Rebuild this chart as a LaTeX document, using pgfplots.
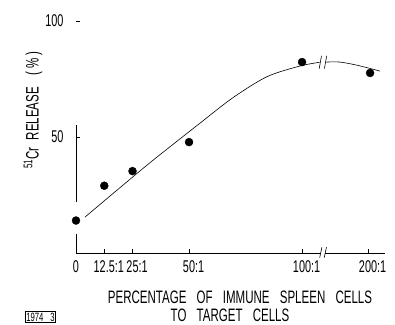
\documentclass[border=0pt]{standalone}
\usepackage{fontspec}
\setmainfont{Liberation Sans}[FakeStretch=0.64, WordSpace=3.2]
\usepackage{pgfplots}
\pgfplotsset{compat=1.18}
\begin{document}
\begin{tikzpicture}[x=1pt,y=1pt]
\useasboundingbox (-76,-71) rectangle (319,253);
\begin{axis}[
  at={(0,0)}, anchor=south west,
  scale only axis, width=309pt, height=232pt,
  xmin=0, xmax=136.7, ymin=0, ymax=100,
  axis x line*=bottom, axis y line*=left,
  x axis line style={-, line width=0.8pt},
  y axis line style={draw=none},
  xtick={0,12.5,25,50,100,129.2},
  xticklabels={0,12.5\rlap{:1},25\rlap{:1},50\rlap{:1},100\rlap{:1},200\rlap{:1}},
  ytick={50,100}, yticklabels={50,100},
  tick align=inside, major tick length=4pt,
  tick style={line width=0.7pt, black},
  x tick label style={font=\fontsize{17}{17}\selectfont, yshift=-4pt},
  y tick label style={font=\fontsize{17}{17}\selectfont, xshift=-9pt},
  clip=false,
]
\addplot[only marks, mark=*, mark size=4pt, black] coordinates {(0,14) (12.5,29) (25,35.3) (50,47.8) (100,82.3) (130.1,77.6)};
\addplot[smooth, black, line width=0.6pt] coordinates {(4,15.5) (19.5,28.2) (34.1,40) (54.9,56) (69.5,67) (84.5,76) (99.1,80.6) (107.8,82.2)};
\addplot[smooth, black, line width=0.6pt] coordinates {(110.8,82.3) (116.8,82.3) (125,80.8) (134.5,78.4)};
% break marks
\draw[line width=0.6pt] (axis cs:107.6,79.5) -- (axis cs:108.6,85);
\draw[line width=0.6pt] (axis cs:109.9,79.5) -- (axis cs:110.9,85);
\fill[white] (axis cs:108.4,-1) rectangle (axis cs:110.2,1);
\draw[line width=0.6pt] (axis cs:107.8,-2) -- (axis cs:108.8,2.5);
\draw[line width=0.6pt] (axis cs:109.8,-2) -- (axis cs:110.8,2.5);
% y axis line (broken as in the scan)
\draw[line width=0.8pt] (axis cs:0,0) -- (axis cs:0,8);
\draw[line width=0.8pt] (axis cs:0,22) -- (axis cs:0,55);
\end{axis}
\node[rotate=90, font=\fontsize{18}{18}\selectfont] at (-43,143) {\textsuperscript{51}Cr\hspace{7pt}RELEASE\hspace{12pt}(\,\%\,)};
\node[font=\fontsize{18}{18}\selectfont] at (164,-44) {PERCENTAGE OF IMMUNE SPLEEN CELLS};
\node[font=\fontsize{18}{18}\selectfont] at (154,-62) {TO TARGET CELLS};
\node[draw, line width=0.6pt, inner sep=1.2pt, font=\fontsize{12}{12}\selectfont] at (-35.5,-64) {1974 3};
\end{tikzpicture}
\end{document}
